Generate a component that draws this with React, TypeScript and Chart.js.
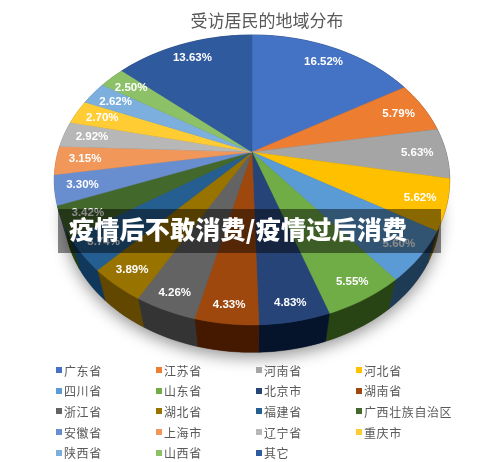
import React, { useEffect, useRef } from "react";
import { Chart, registerables } from "chart.js";

Chart.register(...registerables);

const chartTitle = "受访居民的地域分布";
const bannerText = "疫情后不敢消费/疫情过后消费";
const regions = ["广东省","江苏省","河南省","河北省","四川省","山东省","北京市","湖南省","浙江省","湖北省","福建省","广西壮族自治区","安徽省","上海市","辽宁省","重庆市","陕西省","山西省","其它"];
const shares = [16.52,5.79,5.63,5.62,5.60,5.55,4.83,4.33,4.26,3.89,3.74,3.42,3.30,3.15,2.92,2.70,2.62,2.50,13.63];
const sliceColors = ["#4472C4","#ED7D31","#A5A5A5","#FFC000","#5B9BD5","#70AD47","#264478","#9E480E","#636363","#997300","#255E91","#43682B","#698ED0","#F1975A","#B7B7B7","#FFCD33","#7CAFDD","#8CC168","#2F5A9E"];

// Perspective projection of the pie disc
const APEX_X = 252, APEX_Y = 152, SCALE_X = 194, SCALE_Y = 139.6, TILT = 0.193;
const WALL_SCALE = 0.95, WALL_DROP = 36;

const project = (a: number, r: number) => {
  const u = Math.cos(a) * r, v = Math.sin(a) * r, w = 1 - TILT * v;
  return { x: APEX_X + (SCALE_X * u) / w, y: APEX_Y + (SCALE_Y * v) / w };
};
const lower = (p: { x: number; y: number }) => ({
  x: APEX_X + (p.x - APEX_X) * WALL_SCALE,
  y: APEX_Y + WALL_DROP + (p.y - APEX_Y) * WALL_SCALE,
});
const darken = (hex: string, f: number) => {
  const n = parseInt(hex.slice(1), 16);
  const c = [(n >> 16) & 255, (n >> 8) & 255, n & 255].map((x) => Math.max(0, Math.round(x * f - 12)));
  return `rgb(${c[0]},${c[1]},${c[2]})`;
};

const pie3d = {
  id: "pie3d",
  beforeDatasetsDraw(chart: any) {
    const ctx: CanvasRenderingContext2D = chart.ctx;
    const arcs = chart.getDatasetMeta(0).data as any[];
    const colors = chart.data.datasets[0].backgroundColor as string[];
    const N = 240;
    const rim = (from: number, to: number) => {
      const steps = Math.max(2, Math.ceil((Math.abs(to - from) / (2 * Math.PI)) * N));
      const pts = [];
      for (let i = 0; i <= steps; i++) pts.push(project(from + ((to - from) * i) / steps, 1));
      return pts;
    };
    ctx.save();
    // soft shadow under the whole disc
    ctx.save();
    ctx.shadowColor = "rgba(0,0,0,0.42)";
    ctx.shadowBlur = 16;
    ctx.shadowOffsetY = 5;
    ctx.fillStyle = "#555";
    ctx.beginPath();
    rim(0, 2 * Math.PI).map(lower).forEach((p, i) => (i ? ctx.lineTo(p.x, p.y) : ctx.moveTo(p.x, p.y)));
    ctx.closePath();
    ctx.fill();
    ctx.restore();
    // walls
    arcs.forEach((arc, i) => {
      const props = arc.getProps(["startAngle", "endAngle"], true);
      const top = rim(props.startAngle, props.endAngle);
      const bottom = top.map(lower).reverse();
      const mid = (props.startAngle + props.endAngle) / 2;
      const col = darken(colors[i], Math.min(0.72, 0.46 + 0.5 * Math.max(0, -Math.cos(mid))));
      ctx.fillStyle = col;
      ctx.strokeStyle = col;
      ctx.lineWidth = 0.5;
      ctx.beginPath();
      [...top, ...bottom].forEach((p, k) => (k ? ctx.lineTo(p.x, p.y) : ctx.moveTo(p.x, p.y)));
      ctx.closePath();
      ctx.fill();
      ctx.stroke();
    });
    // top faces
    arcs.forEach((arc, i) => {
      const props = arc.getProps(["startAngle", "endAngle"], true);
      ctx.fillStyle = colors[i];
      ctx.strokeStyle = colors[i];
      ctx.lineWidth = 0.4;
      ctx.beginPath();
      ctx.moveTo(APEX_X, APEX_Y);
      rim(props.startAngle, props.endAngle).forEach((p) => ctx.lineTo(p.x, p.y));
      ctx.closePath();
      ctx.fill();
      ctx.stroke();
    });
    // value labels
    ctx.font = 'bold 11.5px "Liberation Sans", Arial, sans-serif';
    ctx.fillStyle = "#ffffff";
    ctx.textAlign = "center";
    ctx.textBaseline = "middle";
    arcs.forEach((arc, i) => {
      const props = arc.getProps(["startAngle", "endAngle"], true);
      const mid = (props.startAngle + props.endAngle) / 2;
      const r = 0.85 + 0.06 * Math.max(0, Math.sin(mid));
      const p = project(mid, r);
      ctx.fillText(chart.data.datasets[0].data[i].toFixed(2) + "%", p.x, p.y);
    });
    // banner
    ctx.fillStyle = "rgba(0,0,0,0.46)";
    ctx.fillRect(58, 209, 383, 44);
    ctx.font = '900 25px "Noto Sans CJK SC", sans-serif';
    (ctx as any).letterSpacing = "0.25px";
    ctx.textAlign = "left";
    ctx.textBaseline = "middle";
    ctx.fillStyle = "#ffffff";
    ctx.fillText(bannerText, 69, 229);
    ctx.restore();
    return false;
  },
};

export default function App() {
  const ref = useRef<HTMLCanvasElement>(null);
  useEffect(() => {
    const chart = new Chart(ref.current!, {
      type: "pie",
      data: {
        labels: regions,
        datasets: [{ data: shares, backgroundColor: sliceColors, borderWidth: 0 }],
      },
      options: {
        animation: false,
        responsive: false,
        layout: { padding: { left: 34, top: 10 } },
        plugins: {
          legend: { display: false },
          tooltip: { enabled: false },
          title: {
            display: true,
            text: chartTitle,
            color: "#595959",
            font: { family: '"Noto Sans CJK SC", sans-serif', size: 17, weight: "normal" },
            padding: 0,
          },
        },
      },
      plugins: [pie3d],
    } as any);
    return () => chart.destroy();
  }, []);
  return (
    <div style={{ position: "fixed", left: 0, top: 0, width: 500, height: 462, background: "#fff", overflow: "hidden" }}>
      <canvas ref={ref} width={500} height={462} style={{ display: "block", filter: "blur(0.4px)" }} />
      <div
        style={{
          position: "absolute",
          left: 56,
          top: 360,
          display: "grid",
          gridTemplateColumns: "100px 100px 100px 110px",
          gridAutoRows: "20.6px",
          font: '12px "Noto Sans CJK SC", sans-serif',
          letterSpacing: "0.6px",
          color: "#595959",
          filter: "blur(0.3px)",
        }}
      >
        {regions.map((name, i) => (
          <div key={name} style={{ display: "flex", alignItems: "center", whiteSpace: "nowrap" }}>
            <span style={{ width: 6, height: 6, background: sliceColors[i], marginRight: 2, flex: "none" }} />
            {name}
          </div>
        ))}
      </div>
    </div>
  );
}
